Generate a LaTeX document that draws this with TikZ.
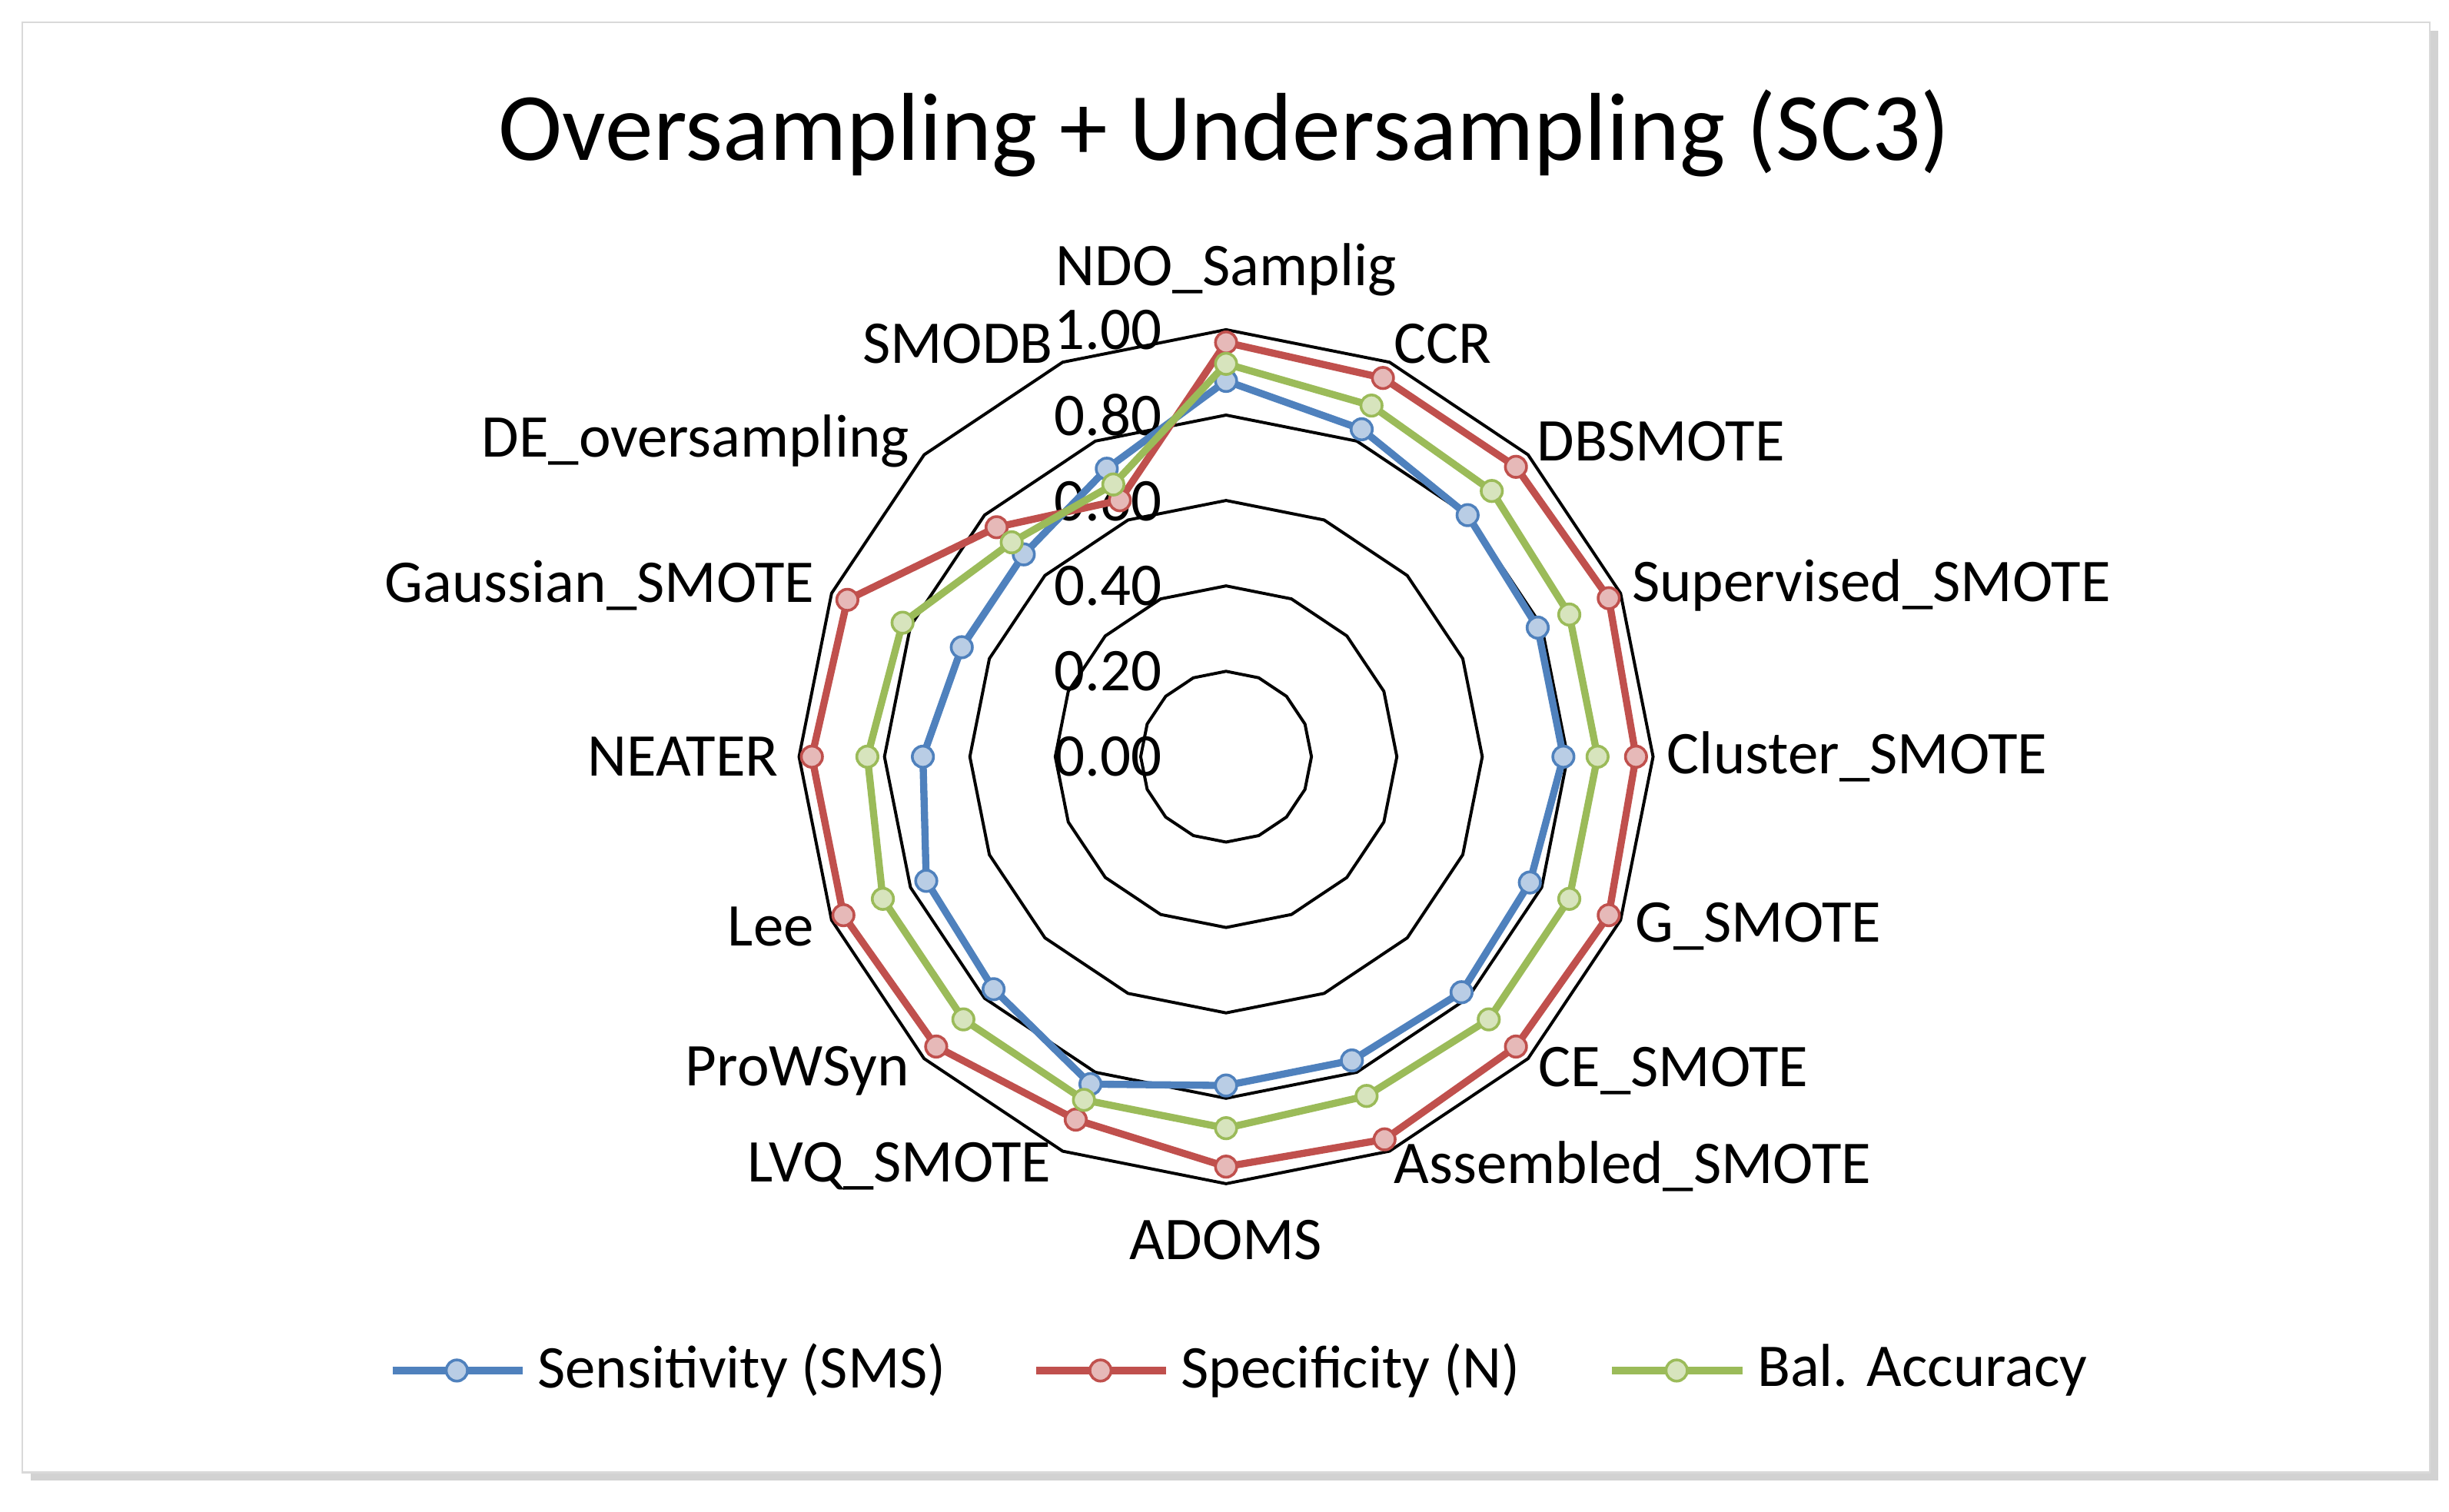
\documentclass[tikz,border=0pt]{standalone}
\usepackage{fontspec}
\setmainfont{Carlito}
\usetikzlibrary{shadows}
\definecolor{sblue}{HTML}{4F81BD}\definecolor{sred}{HTML}{C0504D}\definecolor{sgreen}{HTML}{9BBB59}
\definecolor{fblue}{HTML}{B9CDE5}\definecolor{fred}{HTML}{E6B9B8}\definecolor{fgreen}{HTML}{D7E4BD}
\tikzset{lbl/.style={font=\fontsize{22}{25}\selectfont,inner sep=0pt},
 ser/.style={line width=2.6pt,line join=round},
 mk/.style={circle,draw,line width=1pt,minimum size=0.27cm,inner sep=0pt}}
\begin{document}
\begin{tikzpicture}[x=0.02cm,y=-0.02cm]
\useasboundingbox (0,0) rectangle (1560,963);
\fill[white] (0,0) rectangle (1560,963);
\node[draw=gray!30,fill=white,line width=0.6pt,minimum width=30.68cm,minimum height=18.48cm,inner sep=0pt,
 drop shadow={shadow xshift=3pt,shadow yshift=-3pt,opacity=0.35}] (frame) at (781,476) {};
\node[font=\fontsize{35}{40}\selectfont] (title) at (780,85) {Oversampling + Undersampling (SC3)};
% rings
\foreach \v in {0.2,0.4,0.6,0.8,1.0}{
 \draw[line width=1.1pt,black] plot[samples=17,domain=0:16,variable=\k] ({781+272*\v*cos(90-22.5*\k)},{482-272*\v*sin(90-22.5*\k)}) -- cycle;}
% tick labels
\foreach \v/\t in {0/0.00,0.2/0.20,0.4/0.40,0.6/0.60,0.8/0.80,1.0/1.00}
 \node[lbl] (tick\t) at (706,{482-272*\v}) {\t};
% category labels
\foreach \n/\x/\y/\t in {a/781/172/NDO\_Samplig,b/919/219/CCR,c/1058/281/DBSMOTE,d/1192/373/Supervised\_SMOTE,
 e/1183/482/Cluster\_SMOTE,f/1120/590/G\_SMOTE,g/1066/682/CE\_SMOTE,h/1040/743/Assembled\_SMOTE,
 i/781/790/ADOMS,j/573/743/LVQ\_SMOTE,k/508/682/ProWSyn,l/491/590/Lee,m/435/482/NEATER,
 n/382/373/Gaussian\_SMOTE,o/443/281/DE\_oversampling,p/610/219/SMODB}
 \node[lbl] (cat\n) at (\x,\y) {\t};
% series
\def\series#1#2#3#4{%
 \foreach \v [count=\k from 0] in {#1}{\coordinate (#4\k) at ({781+272*\v*cos(90-22.5*\k)},{482-272*\v*sin(90-22.5*\k)});}
 \draw[ser,#2] (#40)--(#41)--(#42)--(#43)--(#44)--(#45)--(#46)--(#47)--(#48)--(#49)--(#410)--(#411)--(#412)--(#413)--(#414)--(#415)--cycle;
 \foreach \k in {0,...,15}{\node[mk,draw=#2,fill=#3] (m#4\k) at (#4\k) {};}}
\series{0.88,0.83,0.80,0.79,0.79,0.77,0.78,0.77,0.77,0.83,0.77,0.76,0.71,0.67,0.67,0.73}{sblue}{fblue}{B}
\series{0.97,0.96,0.96,0.97,0.96,0.97,0.96,0.97,0.96,0.92,0.96,0.97,0.97,0.96,0.76,0.65}{sred}{fred}{R}
\series{0.92,0.89,0.88,0.87,0.87,0.87,0.87,0.86,0.87,0.87,0.87,0.87,0.84,0.82,0.71,0.69}{sgreen}{fgreen}{G}
% legend
\foreach \n/\c/\f/\x/\t in {ls/sblue/fblue/250/Sensitivity (SMS),lr/sred/fred/660/Specificity (N),lg/sgreen/fgreen/1027/Bal. Accuracy}{
 \coordinate (\n a) at (\x,873); \coordinate (\n b) at (\x+83,873);
 \draw[ser,\c] (\n a) -- (\n b);
 \node[mk,draw=\c,fill=\f] (\n m) at (\x+41,873) {};
 \node[lbl,anchor=west] (\n t) at (\x+92,873) {\t};}
\end{tikzpicture}
\end{document}
